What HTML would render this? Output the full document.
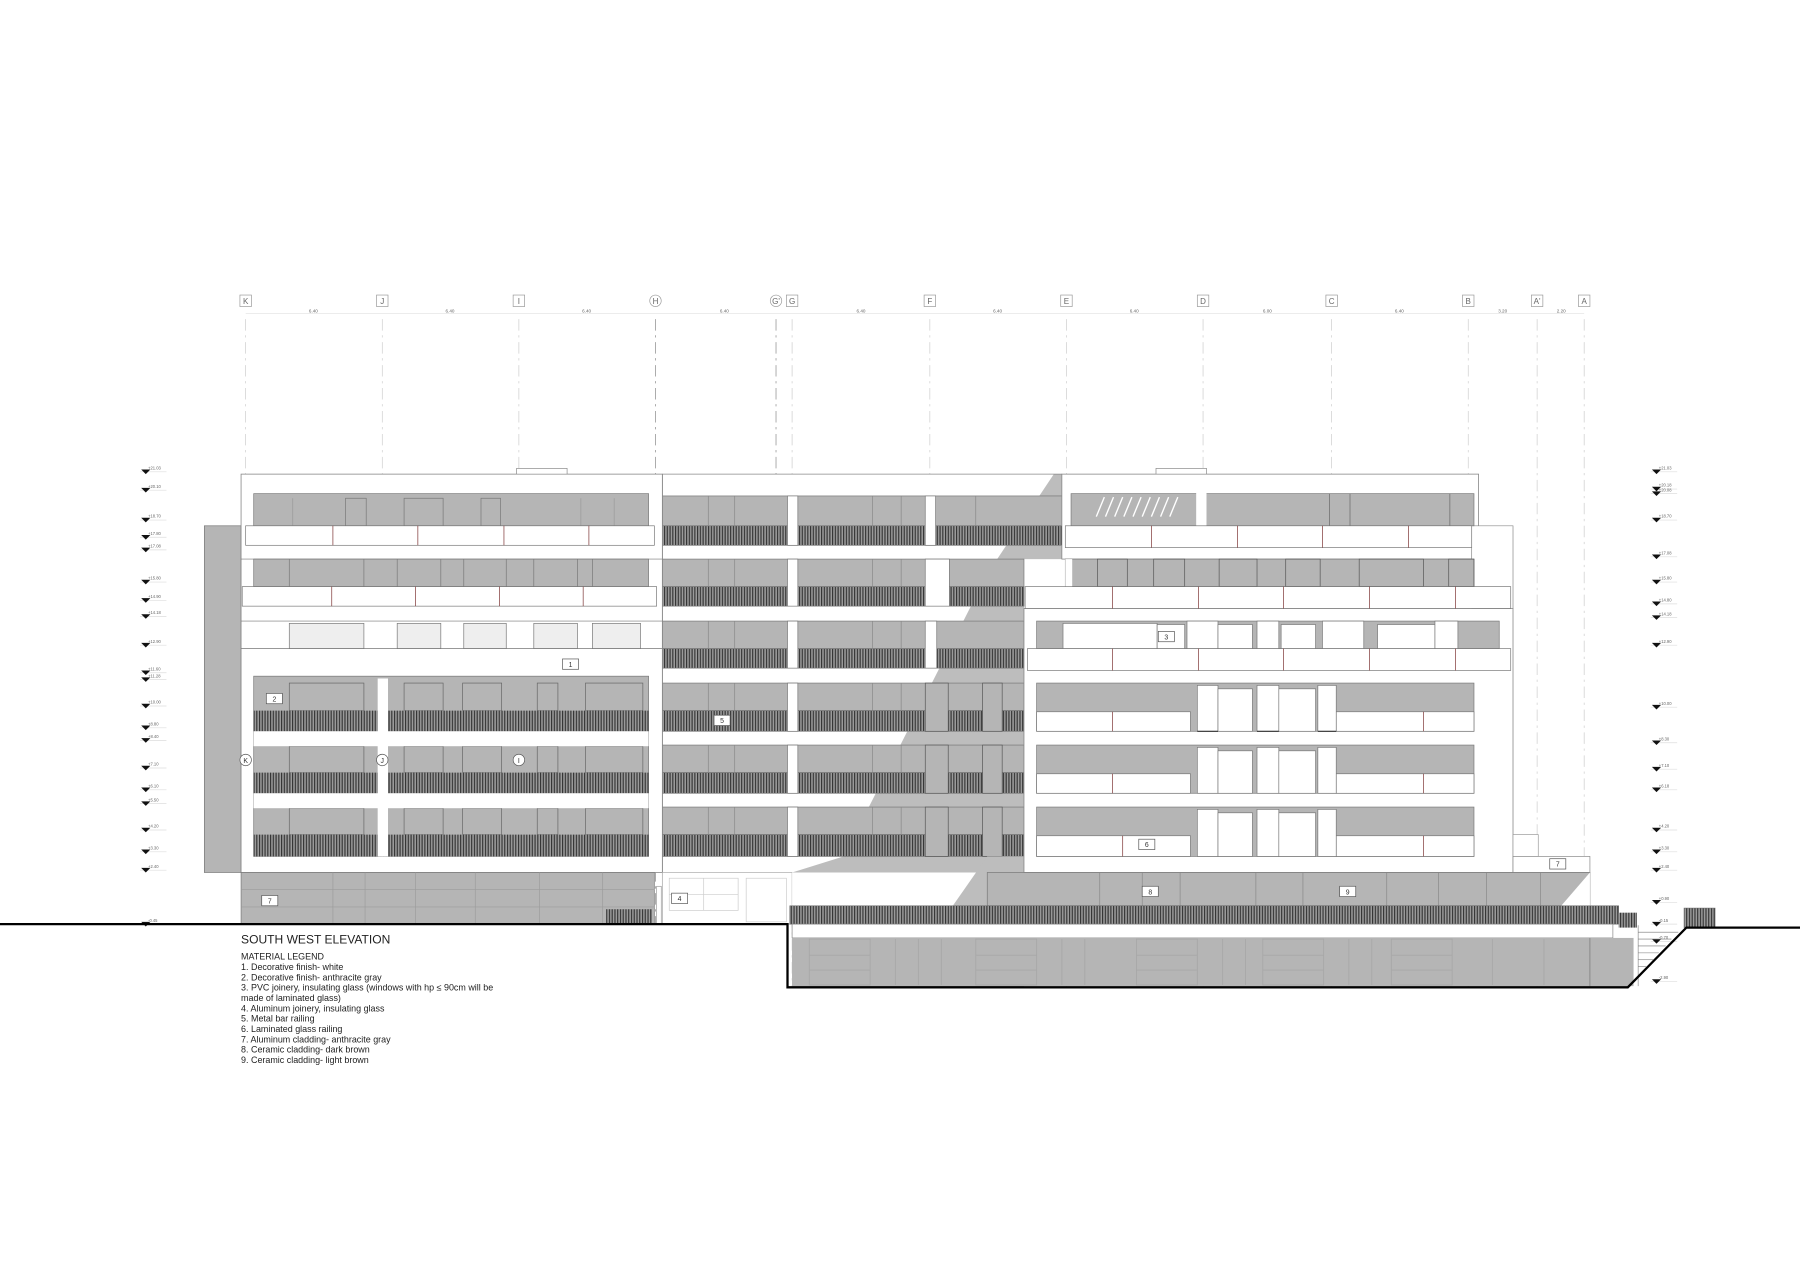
<!DOCTYPE html>
<html><head><meta charset="utf-8"><style>
html,body{margin:0;padding:0;background:#fff;}
svg{display:block;}
text{font-family:"Liberation Sans",sans-serif;}
</style></head><body>
<svg width="1800" height="1272" viewBox="0 0 1568 1108" preserveAspectRatio="none" xmlns="http://www.w3.org/2000/svg">
<defs>
<pattern id="rail" width="2.4" height="10" patternUnits="userSpaceOnUse">
<rect width="2.4" height="10" fill="#9a9a9a"/><rect width="1" height="10" fill="#333"/>
</pattern>
<g id="mk"><line x1="-5" y1="1" x2="18" y2="1" stroke="#ddd" stroke-width="0.6"/><path d="M-4,-1 L4,-1 L0,3 Z" fill="#111"/></g>
</defs>
<rect width="1568" height="1108" fill="#fff"/>

<!-- grid -->
<g stroke="#ccc" stroke-width="0.6" fill="none">
<line x1="214" y1="273" x2="1380" y2="273" stroke="#e2e2e2"/>
<g stroke-dasharray="10,4,2,4">
<line x1="214" y1="278" x2="214" y2="805"/><line x1="333" y1="278" x2="333" y2="805"/><line x1="452" y1="278" x2="452" y2="805"/>
<line x1="571" y1="278" x2="571" y2="805" stroke="#888"/><line x1="676" y1="278" x2="676" y2="805" stroke="#888"/>
<line x1="690" y1="278" x2="690" y2="860"/><line x1="810" y1="278" x2="810" y2="860"/><line x1="929" y1="278" x2="929" y2="860"/>
<line x1="1048" y1="278" x2="1048" y2="860"/><line x1="1160" y1="278" x2="1160" y2="860"/><line x1="1279" y1="278" x2="1279" y2="860"/>
<line x1="1339" y1="278" x2="1339" y2="860"/><line x1="1380" y1="278" x2="1380" y2="860"/>
</g>
</g>
<g font-size="7" fill="#666" text-anchor="middle" stroke-width="0.6">
<g fill="#fff" stroke="#999">
<rect x="209" y="257" width="10" height="10"/><rect x="328" y="257" width="10" height="10"/><rect x="447" y="257" width="10" height="10"/>
<circle cx="571" cy="262" r="5"/><circle cx="676" cy="262" r="5"/>
<rect x="685" y="257" width="10" height="10"/><rect x="805" y="257" width="10" height="10"/><rect x="924" y="257" width="10" height="10"/>
<rect x="1043" y="257" width="10" height="10"/><rect x="1155" y="257" width="10" height="10"/><rect x="1274" y="257" width="10" height="10"/>
<rect x="1334" y="257" width="10" height="10"/><rect x="1375" y="257" width="10" height="10"/>
</g>
<text x="214" y="265">K</text><text x="333" y="265">J</text><text x="452" y="265">I</text><text x="571" y="265">H</text><text x="676" y="265">G'</text>
<text x="690" y="265">G</text><text x="810" y="265">F</text><text x="929" y="265">E</text><text x="1048" y="265">D</text><text x="1160" y="265">C</text>
<text x="1279" y="265">B</text><text x="1339" y="265">A'</text><text x="1380" y="265">A</text>
<g font-size="4">
<text x="273" y="272">6.40</text><text x="392" y="272">6.40</text><text x="511" y="272">6.40</text><text x="631" y="272">6.40</text>
<text x="750" y="272">6.40</text><text x="869" y="272">6.40</text><text x="988" y="272">6.40</text><text x="1104" y="272">6.00</text>
<text x="1219" y="272">6.40</text><text x="1309" y="272">3.20</text><text x="1360" y="272">2.20</text>
</g>
</g>

<!-- level markers -->
<g>
<use href="#mk" x="127" y="410"/><use href="#mk" x="127" y="426"/><use href="#mk" x="127" y="452"/><use href="#mk" x="127" y="467"/><use href="#mk" x="127" y="478"/>
<use href="#mk" x="127" y="506"/><use href="#mk" x="127" y="522"/><use href="#mk" x="127" y="536"/><use href="#mk" x="127" y="561"/><use href="#mk" x="127" y="585"/>
<use href="#mk" x="127" y="591"/><use href="#mk" x="127" y="614"/><use href="#mk" x="127" y="633"/><use href="#mk" x="127" y="644"/><use href="#mk" x="127" y="668"/>
<use href="#mk" x="127" y="687"/><use href="#mk" x="127" y="699"/><use href="#mk" x="127" y="722"/><use href="#mk" x="127" y="741"/><use href="#mk" x="127" y="757"/><use href="#mk" x="127" y="804"/>
<use href="#mk" x="1443" y="410"/><use href="#mk" x="1443" y="425"/><use href="#mk" x="1443" y="429"/><use href="#mk" x="1443" y="452"/><use href="#mk" x="1443" y="484"/>
<use href="#mk" x="1443" y="506"/><use href="#mk" x="1443" y="525"/><use href="#mk" x="1443" y="537"/><use href="#mk" x="1443" y="561"/><use href="#mk" x="1443" y="615"/>
<use href="#mk" x="1443" y="646"/><use href="#mk" x="1443" y="669"/><use href="#mk" x="1443" y="687"/><use href="#mk" x="1443" y="722"/><use href="#mk" x="1443" y="741"/>
<use href="#mk" x="1443" y="757"/><use href="#mk" x="1443" y="785"/><use href="#mk" x="1443" y="804"/><use href="#mk" x="1443" y="819"/><use href="#mk" x="1443" y="854"/>
</g>
<g font-size="3.6" fill="#666">
<text x="129" y="409">+21.03</text><text x="129" y="425">+20.10</text><text x="129" y="451">+18.70</text><text x="129" y="466">+17.80</text><text x="129" y="477">+17.08</text>
<text x="129" y="505">+15.80</text><text x="129" y="521">+14.90</text><text x="129" y="535">+14.18</text><text x="129" y="560">+12.90</text><text x="129" y="584">+11.60</text>
<text x="129" y="590">+11.28</text><text x="129" y="613">+10.00</text><text x="129" y="632">+8.80</text><text x="129" y="643">+8.40</text><text x="129" y="667">+7.10</text>
<text x="129" y="686">+6.10</text><text x="129" y="698">+5.50</text><text x="129" y="721">+4.20</text><text x="129" y="740">+3.30</text><text x="129" y="756">+2.40</text><text x="129" y="803">-0.45</text>
<text x="1445" y="409">+21.03</text><text x="1445" y="424">+20.18</text><text x="1445" y="428">+20.08</text><text x="1445" y="451">+18.70</text><text x="1445" y="483">+17.08</text>
<text x="1445" y="505">+15.80</text><text x="1445" y="524">+14.80</text><text x="1445" y="536">+14.18</text><text x="1445" y="560">+12.90</text><text x="1445" y="614">+10.00</text>
<text x="1445" y="645">+8.30</text><text x="1445" y="668">+7.10</text><text x="1445" y="686">+6.18</text><text x="1445" y="721">+4.20</text><text x="1445" y="740">+3.30</text>
<text x="1445" y="756">+2.40</text><text x="1445" y="784">+0.90</text><text x="1445" y="803">-0.15</text><text x="1445" y="818">-0.70</text><text x="1445" y="853">-2.90</text>
</g>

<!-- shadow / gray backgrounds -->
<polygon points="577,413 925,413 925,760 577,760" fill="#fff"/>
<polygon points="918,413 925,413 925,487 892,487 892,860 690,860 690,760 735,746 860,500" fill="#bdbdbd"/>

<!-- left gray column -->
<rect x="178" y="458" width="32" height="302" fill="#b5b5b5" stroke="#777" stroke-width="0.6"/>
<!-- left block -->
<rect x="210" y="413" width="367" height="347" fill="#fff" stroke="#888" stroke-width="0.7"/>
<rect x="450" y="408" width="44" height="5" fill="#fff" stroke="#888" stroke-width="0.6"/>
<rect x="221" y="430" width="344" height="28" fill="#b5b5b5" stroke="#777" stroke-width="0.6"/>
<g fill="none" stroke="#777" stroke-width="0.6">
<rect x="301" y="434" width="18" height="24"/><rect x="352" y="434" width="34" height="24"/><rect x="419" y="434" width="17" height="24"/>
<line x1="255" y1="434" x2="255" y2="458" stroke="#999"/><line x1="506" y1="434" x2="506" y2="458" stroke="#999"/><line x1="535" y1="434" x2="535" y2="458" stroke="#999"/>
</g>
<rect x="214" y="458" width="356" height="17" fill="#fff" stroke="#777" stroke-width="0.6"/>
<g stroke="#7a3030" stroke-width="0.6"><line x1="290" y1="458" x2="290" y2="475"/><line x1="364" y1="458" x2="364" y2="475"/><line x1="439" y1="458" x2="439" y2="475"/><line x1="513" y1="458" x2="513" y2="475"/></g>
<line x1="210" y1="487" x2="577" y2="487" stroke="#777" stroke-width="0.6"/>
<rect x="221" y="487" width="344" height="24" fill="#b5b5b5" stroke="#777" stroke-width="0.6"/>
<g stroke="#777" stroke-width="0.6"><line x1="252" y1="487" x2="252" y2="511"/><line x1="317" y1="487" x2="317" y2="511"/><line x1="346" y1="487" x2="346" y2="511"/><line x1="384" y1="487" x2="384" y2="511"/><line x1="404" y1="487" x2="404" y2="511"/><line x1="441" y1="487" x2="441" y2="511"/><line x1="465" y1="487" x2="465" y2="511"/><line x1="503" y1="487" x2="503" y2="511"/><line x1="516" y1="487" x2="516" y2="511"/></g>
<rect x="211" y="511" width="361" height="17" fill="#fff" stroke="#777" stroke-width="0.6"/>
<g stroke="#7a3030" stroke-width="0.6"><line x1="289" y1="511" x2="289" y2="528"/><line x1="362" y1="511" x2="362" y2="528"/><line x1="435" y1="511" x2="435" y2="528"/><line x1="508" y1="511" x2="508" y2="528"/></g>
<line x1="210" y1="541" x2="577" y2="541" stroke="#777" stroke-width="0.6"/>
<g fill="#eee" stroke="#777" stroke-width="0.6">
<rect x="252" y="543" width="65" height="22"/><rect x="346" y="543" width="38" height="22"/><rect x="404" y="543" width="37" height="22"/><rect x="465" y="543" width="38" height="22"/><rect x="516" y="543" width="42" height="22"/>
</g>
<line x1="210" y1="565" x2="577" y2="565" stroke="#777" stroke-width="0.6"/>
<rect x="221" y="589" width="344" height="157" fill="#b5b5b5" stroke="#777" stroke-width="0.6"/>
<g fill="none" stroke="#666" stroke-width="0.6">
<rect x="252" y="595" width="65" height="24"/><rect x="352" y="595" width="34" height="24"/><rect x="403" y="595" width="34" height="24"/><rect x="468" y="595" width="18" height="24"/><rect x="510" y="595" width="50" height="24"/>
<rect x="252" y="650" width="65" height="23"/><rect x="352" y="650" width="34" height="23"/><rect x="403" y="650" width="34" height="23"/><rect x="468" y="650" width="18" height="23"/><rect x="510" y="650" width="50" height="23"/>
<rect x="252" y="704" width="65" height="23"/><rect x="352" y="704" width="34" height="23"/><rect x="403" y="704" width="34" height="23"/><rect x="468" y="704" width="18" height="23"/><rect x="510" y="704" width="50" height="23"/>
</g>
<rect x="221" y="619" width="344" height="18" fill="url(#rail)"/>
<rect x="221" y="673" width="344" height="18" fill="url(#rail)"/>
<rect x="221" y="727" width="344" height="19" fill="url(#rail)"/>
<rect x="221" y="637" width="344" height="13" fill="#fff"/>
<rect x="221" y="691" width="344" height="13" fill="#fff"/>
<rect x="329" y="591" width="9" height="155" fill="#fff"/>
<!-- left base -->
<rect x="210" y="760" width="360" height="45" fill="#b5b5b5" stroke="#777" stroke-width="0.6"/>
<g stroke="#9c9c9c" stroke-width="0.6"><line x1="210" y1="775" x2="570" y2="775"/><line x1="210" y1="790" x2="570" y2="790"/>
<line x1="290" y1="760" x2="290" y2="805"/><line x1="318" y1="760" x2="318" y2="805"/><line x1="362" y1="760" x2="362" y2="805"/><line x1="414" y1="760" x2="414" y2="805"/><line x1="470" y1="760" x2="470" y2="805"/><line x1="525" y1="760" x2="525" y2="805"/></g>
<rect x="528" y="792" width="40" height="13" fill="url(#rail)"/>

<!-- middle block floors -->
<g stroke="#777" stroke-width="0.6">
<rect x="577" y="432" width="348" height="26" fill="#b5b5b5"/><rect x="577" y="458" width="348" height="17" fill="url(#rail)"/>
<rect x="577" y="487" width="315" height="24" fill="#b5b5b5"/><rect x="577" y="511" width="315" height="17" fill="url(#rail)"/>
<rect x="577" y="541" width="315" height="24" fill="#b5b5b5"/><rect x="577" y="565" width="315" height="17" fill="url(#rail)"/>
<rect x="577" y="595" width="315" height="24" fill="#b5b5b5"/><rect x="577" y="619" width="315" height="18" fill="url(#rail)"/>
<rect x="577" y="649" width="315" height="24" fill="#b5b5b5"/><rect x="577" y="673" width="315" height="18" fill="url(#rail)"/>
<rect x="577" y="703" width="315" height="24" fill="#b5b5b5"/><rect x="577" y="727" width="315" height="19" fill="url(#rail)"/>
</g>
<g fill="#fff" stroke="#777" stroke-width="0.6">
<rect x="686" y="432" width="9" height="43"/><rect x="806" y="432" width="9" height="43"/>
<rect x="686" y="487" width="9" height="41"/><rect x="806" y="487" width="21" height="41"/>
<rect x="686" y="541" width="9" height="41"/><rect x="806" y="541" width="10" height="41"/>
<rect x="686" y="595" width="9" height="42"/><rect x="686" y="649" width="9" height="42"/><rect x="686" y="703" width="9" height="43"/>
</g>
<g fill="none" stroke="#888" stroke-width="0.6">
<line x1="617" y1="432" x2="617" y2="458"/><line x1="640" y1="432" x2="640" y2="458"/><line x1="760" y1="432" x2="760" y2="458"/><line x1="785" y1="432" x2="785" y2="458"/><line x1="850" y1="432" x2="850" y2="458"/>
<line x1="617" y1="487" x2="617" y2="511"/><line x1="640" y1="487" x2="640" y2="511"/><line x1="760" y1="487" x2="760" y2="511"/><line x1="785" y1="487" x2="785" y2="511"/>
<line x1="617" y1="541" x2="617" y2="565"/><line x1="640" y1="541" x2="640" y2="565"/><line x1="760" y1="541" x2="760" y2="565"/><line x1="785" y1="541" x2="785" y2="565"/>
<line x1="617" y1="595" x2="617" y2="619"/><line x1="640" y1="595" x2="640" y2="619"/><line x1="760" y1="595" x2="760" y2="619"/><line x1="785" y1="595" x2="785" y2="619"/>
<line x1="617" y1="649" x2="617" y2="673"/><line x1="640" y1="649" x2="640" y2="673"/><line x1="760" y1="649" x2="760" y2="673"/><line x1="785" y1="649" x2="785" y2="673"/>
<line x1="617" y1="703" x2="617" y2="727"/><line x1="640" y1="703" x2="640" y2="727"/><line x1="760" y1="703" x2="760" y2="727"/><line x1="785" y1="703" x2="785" y2="727"/>
</g>
<g fill="#b5b5b5" stroke="#555" stroke-width="0.6">
<rect x="806" y="595" width="20" height="42"/><rect x="856" y="595" width="17" height="42"/>
<rect x="806" y="649" width="20" height="42"/><rect x="856" y="649" width="17" height="42"/>
<rect x="806" y="703" width="20" height="43"/><rect x="856" y="703" width="17" height="43"/>
</g>
<line x1="577" y1="413" x2="577" y2="805" stroke="#888" stroke-width="0.7"/>
<line x1="577" y1="413" x2="925" y2="413" stroke="#888" stroke-width="0.7"/>
<!-- middle base -->
<rect x="577" y="760" width="113" height="45" fill="#fff" stroke="#aaa" stroke-width="0.6"/>
<g stroke="#ccc" stroke-width="0.6" fill="none"><rect x="583" y="765" width="60" height="28"/><line x1="613" y1="765" x2="613" y2="793"/><line x1="583" y1="779" x2="643" y2="779"/><rect x="650" y="765" width="35" height="38"/>
<rect x="697" y="765" width="140" height="25"/><line x1="737" y1="765" x2="737" y2="790"/><line x1="780" y1="765" x2="780" y2="790"/></g>
<rect x="572" y="772" width="4" height="33" fill="#fff" stroke="#888" stroke-width="0.5"/>
<rect x="690" y="760" width="170" height="29" fill="#fff"/>
<polygon points="860,746 892,746 892,789 830,789" fill="#bdbdbd"/>

<!-- right block -->
<rect x="892" y="530" width="426" height="230" fill="#fff" stroke="#888" stroke-width="0.7"/>
<rect x="925" y="413" width="363" height="74" fill="#fff" stroke="#888" stroke-width="0.7"/>
<polygon points="1288,458 1318,458 1318,530 1282,530 1282,458" fill="#fff" stroke="#888" stroke-width="0.6"/>
<rect x="1007" y="408" width="44" height="5" fill="#fff" stroke="#888" stroke-width="0.6"/>
<rect x="933" y="430" width="351" height="28" fill="#b5b5b5" stroke="#777" stroke-width="0.6"/>
<rect x="1042" y="420" width="9" height="38" fill="#fff"/>
<g stroke="#fff" stroke-width="1.2"><line x1="955" y1="450" x2="962" y2="433"/><line x1="963" y1="450" x2="970" y2="433"/><line x1="971" y1="450" x2="978" y2="433"/><line x1="979" y1="450" x2="986" y2="433"/><line x1="987" y1="450" x2="994" y2="433"/><line x1="995" y1="450" x2="1002" y2="433"/><line x1="1003" y1="450" x2="1010" y2="433"/><line x1="1011" y1="450" x2="1018" y2="433"/><line x1="1019" y1="450" x2="1026" y2="433"/></g>
<g fill="none" stroke="#666" stroke-width="0.6"><line x1="1158" y1="430" x2="1158" y2="458"/><line x1="1176" y1="430" x2="1176" y2="458"/><line x1="1263" y1="430" x2="1263" y2="458"/></g>
<rect x="928" y="458" width="354" height="19" fill="#fff" stroke="#777" stroke-width="0.6"/>
<g stroke="#7a3030" stroke-width="0.6"><line x1="1003" y1="458" x2="1003" y2="477"/><line x1="1078" y1="458" x2="1078" y2="477"/><line x1="1152" y1="458" x2="1152" y2="477"/><line x1="1227" y1="458" x2="1227" y2="477"/></g>
<rect x="928" y="487" width="356" height="24" fill="#b5b5b5" stroke="#777" stroke-width="0.6"/>
<rect x="928" y="487" width="6" height="24" fill="#fff"/>
<g fill="none" stroke="#555" stroke-width="0.6"><rect x="956" y="487" width="26" height="24"/><rect x="1005" y="487" width="27" height="24"/><rect x="1062" y="487" width="33" height="24"/><rect x="1120" y="487" width="30" height="24"/><rect x="1184" y="487" width="56" height="24"/><rect x="1262" y="487" width="22" height="24"/></g>
<rect x="893" y="511" width="423" height="19" fill="#fff" stroke="#777" stroke-width="0.6"/>
<g stroke="#7a3030" stroke-width="0.6"><line x1="969" y1="511" x2="969" y2="530"/><line x1="1044" y1="511" x2="1044" y2="530"/><line x1="1118" y1="511" x2="1118" y2="530"/><line x1="1193" y1="511" x2="1193" y2="530"/><line x1="1268" y1="511" x2="1268" y2="530"/></g>
<rect x="903" y="541" width="403" height="24" fill="#b5b5b5" stroke="#777" stroke-width="0.6"/>
<g fill="#fff" stroke="#777" stroke-width="0.6"><rect x="926" y="543" width="82" height="22"/><rect x="1008" y="544" width="24" height="21"/><rect x="1034" y="541" width="27" height="24"/><rect x="1061" y="544" width="30" height="21"/><rect x="1095" y="541" width="19" height="24"/><rect x="1116" y="544" width="30" height="21"/><rect x="1152" y="541" width="36" height="24"/><rect x="1200" y="544" width="50" height="21"/><rect x="1250" y="541" width="20" height="24"/></g>
<rect x="895" y="565" width="421" height="19" fill="#fff" stroke="#777" stroke-width="0.6"/>
<g stroke="#7a3030" stroke-width="0.6"><line x1="969" y1="565" x2="969" y2="584"/><line x1="1044" y1="565" x2="1044" y2="584"/><line x1="1118" y1="565" x2="1118" y2="584"/><line x1="1193" y1="565" x2="1193" y2="584"/><line x1="1268" y1="565" x2="1268" y2="584"/></g>
<!-- right lower floors -->
<g stroke="#777" stroke-width="0.6">
<rect x="903" y="595" width="381" height="42" fill="#b5b5b5"/><rect x="903" y="649" width="381" height="42" fill="#b5b5b5"/><rect x="903" y="703" width="381" height="43" fill="#b5b5b5"/>
</g>
<g fill="#fff" stroke="#777" stroke-width="0.6">
<rect x="903" y="620" width="134" height="17"/><rect x="1164" y="620" width="120" height="17"/>
<rect x="903" y="674" width="134" height="17"/><rect x="1164" y="674" width="120" height="17"/>
<rect x="903" y="728" width="134" height="18"/><rect x="1164" y="728" width="120" height="18"/>
<rect x="1043" y="597" width="18" height="40"/><rect x="1061" y="600" width="30" height="37"/><rect x="1095" y="597" width="19" height="40"/><rect x="1114" y="600" width="32" height="37"/><rect x="1148" y="597" width="16" height="40"/>
<rect x="1043" y="651" width="18" height="40"/><rect x="1061" y="654" width="30" height="37"/><rect x="1095" y="651" width="19" height="40"/><rect x="1114" y="654" width="32" height="37"/><rect x="1148" y="651" width="16" height="40"/>
<rect x="1043" y="705" width="18" height="41"/><rect x="1061" y="708" width="30" height="38"/><rect x="1095" y="705" width="19" height="41"/><rect x="1114" y="708" width="32" height="38"/><rect x="1148" y="705" width="16" height="41"/>
</g>
<g stroke="#7a3030" stroke-width="0.6"><line x1="969" y1="620" x2="969" y2="637"/><line x1="1240" y1="620" x2="1240" y2="637"/><line x1="969" y1="674" x2="969" y2="691"/><line x1="1240" y1="674" x2="1240" y2="691"/><line x1="978" y1="728" x2="978" y2="746"/><line x1="1240" y1="728" x2="1240" y2="746"/></g>
<g stroke="#333" stroke-width="1"><line x1="1043" y1="637" x2="1061" y2="637"/><line x1="1095" y1="637" x2="1114" y2="637"/><line x1="1148" y1="637" x2="1164" y2="637"/></g>
<!-- annex -->
<rect x="1318" y="727" width="22" height="19" fill="#fff" stroke="#999" stroke-width="0.6"/>
<rect x="1318" y="746" width="67" height="14" fill="#fff" stroke="#888" stroke-width="0.6"/>
<!-- right base -->
<rect x="860" y="760" width="525" height="29" fill="#b5b5b5" stroke="#777" stroke-width="0.6"/>
<polygon points="1360,789 1385,760 1385,789" fill="#fff"/>
<g stroke="#888" stroke-width="0.6"><line x1="958" y1="760" x2="958" y2="789"/><line x1="995" y1="760" x2="995" y2="789"/><line x1="1028" y1="760" x2="1028" y2="789"/><line x1="1094" y1="760" x2="1094" y2="789"/><line x1="1135" y1="760" x2="1135" y2="789"/><line x1="1208" y1="760" x2="1208" y2="789"/><line x1="1253" y1="760" x2="1253" y2="789"/><line x1="1295" y1="760" x2="1295" y2="789"/><line x1="1342" y1="760" x2="1342" y2="789"/></g>
<!-- railing band -->
<rect x="688" y="789" width="722" height="16" fill="url(#rail)" stroke="#666" stroke-width="0.5"/>
<rect x="1410" y="795" width="16" height="13" fill="url(#rail)"/>
<rect x="1467" y="791" width="27" height="17" fill="url(#rail)" stroke="#666" stroke-width="0.5"/>
<!-- basement -->
<rect x="690" y="805" width="715" height="12" fill="#fff" stroke="#888" stroke-width="0.6"/>
<rect x="690" y="817" width="733" height="42" fill="#b5b5b5"/>
<g stroke="#a8a8a8" stroke-width="0.8" fill="none">
<rect x="705" y="818" width="53" height="40"/><line x1="705" y1="832" x2="758" y2="832"/><line x1="705" y1="845" x2="758" y2="845"/><line x1="780" y1="818" x2="780" y2="858"/><line x1="800" y1="818" x2="800" y2="858"/><line x1="820" y1="818" x2="820" y2="858"/>
<rect x="850" y="818" width="53" height="40"/><line x1="850" y1="832" x2="903" y2="832"/><line x1="850" y1="845" x2="903" y2="845"/><line x1="925" y1="818" x2="925" y2="858"/><line x1="945" y1="818" x2="945" y2="858"/>
<rect x="990" y="818" width="53" height="40"/><line x1="990" y1="832" x2="1043" y2="832"/><line x1="990" y1="845" x2="1043" y2="845"/><line x1="1065" y1="818" x2="1065" y2="858"/><line x1="1085" y1="818" x2="1085" y2="858"/>
<rect x="1100" y="818" width="53" height="40"/><line x1="1100" y1="832" x2="1153" y2="832"/><line x1="1100" y1="845" x2="1153" y2="845"/><line x1="1175" y1="818" x2="1175" y2="858"/><line x1="1195" y1="818" x2="1195" y2="858"/>
<rect x="1212" y="818" width="53" height="40"/><line x1="1212" y1="832" x2="1265" y2="832"/><line x1="1212" y1="845" x2="1265" y2="845"/><line x1="1300" y1="818" x2="1300" y2="858"/><line x1="1345" y1="818" x2="1345" y2="858"/>
</g>
<line x1="1385" y1="817" x2="1385" y2="859" stroke="#777" stroke-width="0.6"/>
<g stroke="#777" stroke-width="0.5"><line x1="1427" y1="812" x2="1462" y2="812"/><line x1="1427" y1="818" x2="1456" y2="818"/><line x1="1427" y1="824" x2="1451" y2="824"/><line x1="1427" y1="830" x2="1445" y2="830"/><line x1="1427" y1="836" x2="1440" y2="836"/><line x1="1427" y1="842" x2="1434" y2="842"/><line x1="1427" y1="806" x2="1427" y2="859"/></g>

<!-- ground lines -->
<polyline points="0,805 686,805 686,860 1418,860 1469,808 1568,808" fill="none" stroke="#000" stroke-width="2"/>

<!-- labels -->
<g font-size="6" fill="#333" text-anchor="middle" stroke-width="0.6">
<g fill="#fff" stroke="#555">
<rect x="490" y="574" width="14" height="9"/><rect x="232" y="604" width="14" height="9"/><rect x="622" y="623" width="14" height="9"/>
<rect x="1009" y="550" width="14" height="9"/><rect x="992" y="731" width="14" height="9"/><rect x="1350" y="748" width="14" height="9"/>
<rect x="228" y="780" width="14" height="9"/><rect x="585" y="778" width="14" height="9"/><rect x="995" y="772" width="14" height="9"/><rect x="1167" y="772" width="14" height="9"/>
<circle cx="214" cy="662" r="5"/><circle cx="333" cy="662" r="5"/><circle cx="452" cy="662" r="5"/>
</g>
<text x="497" y="581">1</text><text x="239" y="611">2</text><text x="629" y="630">5</text><text x="1016" y="557">3</text><text x="999" y="738">6</text><text x="1357" y="755">7</text>
<text x="235" y="787">7</text><text x="592" y="785">4</text><text x="1002" y="779">8</text><text x="1174" y="779">9</text>
<text x="214" y="664.5">K</text><text x="333" y="664.5">J</text><text x="452" y="664.5">I</text>
</g>

<!-- legend -->
<g fill="#222">
<text x="210" y="822" font-size="10.5">SOUTH WEST ELEVATION</text>
<g font-size="7.8">
<text x="210" y="836">MATERIAL LEGEND</text>
<text x="210" y="845">1. Decorative finish- white</text>
<text x="210" y="854">2. Decorative finish- anthracite gray</text>
<text x="210" y="863">3. PVC joinery, insulating glass (windows with hp ≤ 90cm will be</text>
<text x="210" y="872">made of laminated glass)</text>
<text x="210" y="881">4. Aluminum joinery, insulating glass</text>
<text x="210" y="890">5. Metal bar railing</text>
<text x="210" y="899">6. Laminated glass railing</text>
<text x="210" y="908">7. Aluminum cladding- anthracite gray</text>
<text x="210" y="917">8. Ceramic cladding- dark brown</text>
<text x="210" y="926">9. Ceramic cladding- light brown</text>
</g>
</g>
</svg>
</body></html>
